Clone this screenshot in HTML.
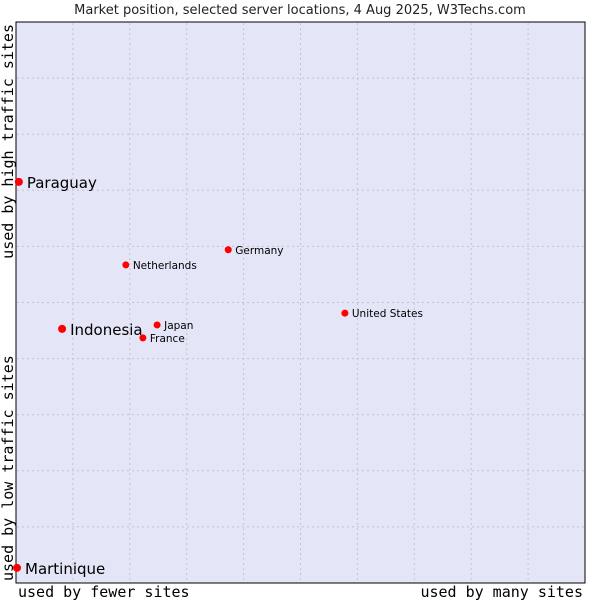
<!DOCTYPE html>
<html><head><meta charset="utf-8"><style>
body{margin:0;background:#fff;width:600px;height:600px;overflow:hidden}
svg{display:block}
</style></head><body>
<svg id="chart" width="600" height="600" xmlns="http://www.w3.org/2000/svg">
<text x="300" y="14" text-anchor="middle" font-family="DejaVu Sans, sans-serif" font-size="13" fill="#222">Market position, selected server locations, 4 Aug 2025, W3Techs.com</text>
<rect x="16" y="22" width="569" height="561" fill="#e4e6f8" stroke="#000" stroke-width="1"/>
<g id="grid"></g>
<g id="points"></g>
<text x="18" y="597" font-family="DejaVu Sans Mono, monospace" font-size="15" fill="#000">used by fewer sites</text>
<text x="583" y="597" text-anchor="end" font-family="DejaVu Sans Mono, monospace" font-size="15" fill="#000">used by many sites</text>
<text transform="translate(13,24) rotate(-90)" text-anchor="end" font-family="DejaVu Sans Mono, monospace" font-size="15" fill="#000">used by high traffic sites</text>
<text transform="translate(13,581) rotate(-90)" font-family="DejaVu Sans Mono, monospace" font-size="15" fill="#000">used by low traffic sites</text>
</svg>
<script>
const names=["Paraguay","Netherlands","Germany","United States","Japan","France","Indonesia","Martinique"];
const xs=[0.5,19.3,37.3,57.8,24.8,22.3,8.1,0];
const ys=[71.5,56.7,59.4,48.1,46.0,43.7,45.3,2.7];
const big=[true,false,false,false,false,false,true,true];
const ticks=[10,20,30,40,50,60,70,80,90];
const NS="http://www.w3.org/2000/svg";
const X=v=>16+v*5.69, Y=v=>583-v*5.61;
const grid=document.getElementById('grid'),pts=document.getElementById('points');
ticks.forEach(t=>{
 let l=document.createElementNS(NS,'line');
 
 
 l.setAttribute('x1',X(t));l.setAttribute('x2',X(t));l.setAttribute('y1',23);l.setAttribute('y2',582);
 l.setAttribute('stroke','#c4c4c8');l.setAttribute('stroke-dasharray','2,3');grid.appendChild(l);
 let h=document.createElementNS(NS,'line');
 
 
 h.setAttribute('y1',Y(t));h.setAttribute('y2',Y(t));h.setAttribute('x1',17);h.setAttribute('x2',584);
 h.setAttribute('stroke','#c4c4c8');h.setAttribute('stroke-dasharray','2,3');grid.appendChild(h);
});
names.forEach((n,i)=>{
 const cx=X(xs[i]),cy=Y(ys[i]);
 let c=document.createElementNS(NS,'circle');
 
 
 c.setAttribute('cx',Math.max(cx,17));c.setAttribute('cy',cy);c.setAttribute('r',big[i]?4:3.5);c.setAttribute('fill','#f00');
 pts.appendChild(c);
 let t=document.createElementNS(NS,'text');
 
 
 t.setAttribute('x',Math.max(cx,17)+(big[i]?8:7));t.setAttribute('y',cy+(big[i]?6:4));
 t.setAttribute('font-family','DejaVu Sans, sans-serif');t.setAttribute('font-size',big[i]?15:10.5);t.setAttribute('fill','#000');
 t.textContent=n;pts.appendChild(t);
});
</script>
</body></html>
